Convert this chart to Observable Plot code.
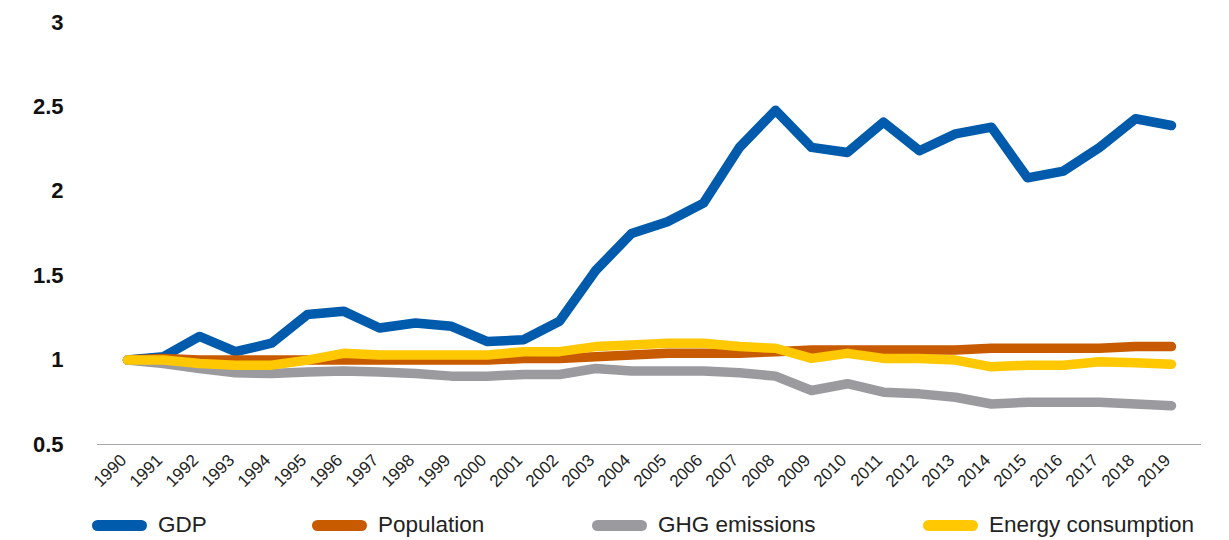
<!DOCTYPE html>
<html>
<head>
<meta charset="utf-8">
<script src="https://cdn.jsdelivr.net/npm/d3@7"></script>
<script src="https://cdn.jsdelivr.net/npm/@observablehq/plot@0.6"></script>
<style>
  html, body { margin: 0; padding: 0; background: #fff; }
  #wrap { width: 1229px; height: 540px; position: relative; font-family: "Liberation Sans", Arial, sans-serif; }
  #legend { position: relative; height: 40px; width: 1229px; }
  .item { position: absolute; top: 0; height: 40px; display: flex; align-items: center; font-size: 22.5px; color: #222; }
  .sw { width: 55px; height: 11px; border-radius: 6px; margin-right: 11px; }
  .xax text { font-size: 17px; }
</style>
</head>
<body>
<div id="wrap"><div id="chart"></div><div id="legend"></div></div>
<script>
const years = ["1990","1991","1992","1993","1994","1995","1996","1997","1998","1999","2000","2001","2002","2003","2004","2005","2006","2007","2008","2009","2010","2011","2012","2013","2014","2015","2016","2017","2018","2019"];
const gdp = [1.0,1.02,1.14,1.05,1.10,1.27,1.29,1.19,1.22,1.20,1.11,1.12,1.23,1.53,1.75,1.82,1.93,2.26,2.48,2.26,2.23,2.41,2.24,2.34,2.38,2.08,2.12,2.26,2.43,2.39];
const population = [1.0,1.01,1.0,1.0,1.0,1.0,1.0,1.0,1.0,1.0,1.0,1.01,1.01,1.02,1.03,1.04,1.04,1.04,1.05,1.06,1.06,1.06,1.06,1.06,1.07,1.07,1.07,1.07,1.08,1.08];
const ghg = [1.0,0.98,0.95,0.925,0.92,0.93,0.935,0.93,0.92,0.905,0.905,0.915,0.915,0.95,0.935,0.935,0.935,0.925,0.905,0.82,0.86,0.81,0.80,0.78,0.74,0.75,0.75,0.75,0.74,0.73];
const energy = [1.0,1.0,0.98,0.97,0.97,1.0,1.04,1.03,1.03,1.03,1.03,1.05,1.05,1.08,1.09,1.10,1.10,1.08,1.07,1.01,1.04,1.01,1.01,1.0,0.96,0.97,0.97,0.99,0.985,0.975];
const seriesNames = ["GDP","Population","GHG emissions","Energy consumption"];
const seriesColors = ["#005BAC","#C85A00","#9B9A9F","#FFC800"];
const yTicks = [0.5,1,1.5,2,2.5,3];

const allSeries = [gdp, population, ghg, energy];
const rows = [];
allSeries.forEach((vals, si) => vals.forEach((v, i) => rows.push({year: years[i], value: v, series: seriesNames[si]})));

const chart = Plot.plot({
  width: 1229,
  height: 500,
  marginLeft: 97,
  marginRight: 28,
  marginTop: 22,
  marginBottom: 56,
  style: {fontFamily: '"Liberation Sans", Arial, sans-serif', background: "#fff", color: "#111"},
  x: {type: "point", domain: years, padding: 0.5},
  y: {domain: [0.5, 3]},
  marks: [
    Plot.ruleY([0.5], {stroke: "#A6A6A6", strokeWidth: 1}),
    Plot.axisY({ticks: yTicks, tickSize: 0, tickPadding: 34, tickFormat: d => String(d), fontSize: 22, fontWeight: 600, label: null}),
    Plot.axisX({tickSize: 0, tickRotate: -45, tickPadding: 4, fontSize: 17, label: null, dx: -4, dy: 9, fill: "#222", className: "xax"}),
    ...seriesNames.map((s, si) => Plot.line(rows.filter(r => r.series === s), {
      x: "year", y: "value", stroke: seriesColors[si], strokeWidth: 9.5,
      strokeLinecap: "round", strokeLinejoin: "round"
    }))
  ]
});
document.getElementById("chart").appendChild(chart);

const legendLefts = [92, 312, 592, 923];
const legend = document.getElementById("legend");
seriesNames.forEach((s, i) => {
  const it = document.createElement("div");
  it.className = "item";
  it.style.left = legendLefts[i] + "px";
  it.style.top = "5px";
  const sw = document.createElement("div");
  sw.className = "sw";
  sw.style.background = seriesColors[i];
  it.appendChild(sw);
  const t = document.createElement("span");
  t.textContent = s;
  it.appendChild(t);
  legend.appendChild(it);
});
</script>
</body>
</html>
